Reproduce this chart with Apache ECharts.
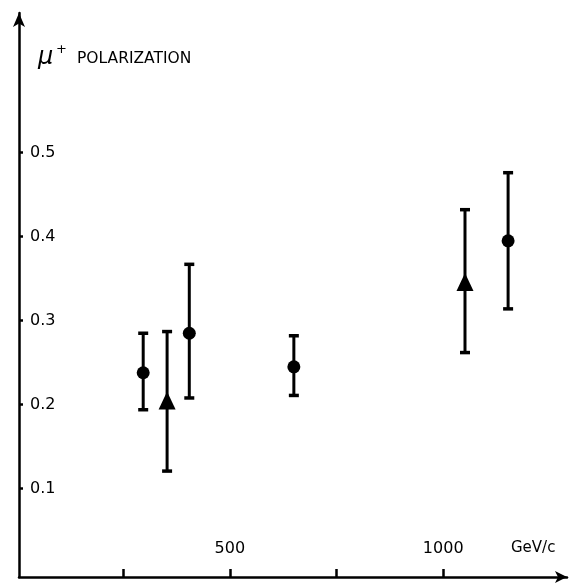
<!DOCTYPE html>
<html>
<head>
<meta charset="utf-8">
<script src="https://cdn.jsdelivr.net/npm/echarts@6/dist/echarts.min.js"></script>
<style>
html,body{margin:0;padding:0;background:#fff;}
#c{width:570px;height:584px;}
</style>
</head>
<body>
<div id="c"></div>
<script>
// Data (momentum in GeV/c, polarization)
const circleX = [297, 405, 650, 1152];
const circleY = [0.238, 0.285, 0.245, 0.395];
const circleLow = [0.194, 0.208, 0.211, 0.314];
const circleHigh = [0.285, 0.367, 0.282, 0.476];

const triX = [353, 1051];
const triY = [0.205, 0.346];
const triLow = [0.121, 0.262];
const triHigh = [0.287, 0.432];

const xTickValues = [250, 500, 750, 1000];
const xLabelValues = [500, 1000];
const yTickValues = [0.1, 0.2, 0.3, 0.4, 0.5];

const FONT = 'DejaVu Sans';

const errData = [];
circleX.forEach((x, i) => errData.push([x, circleLow[i], circleHigh[i]]));
triX.forEach((x, i) => errData.push([x, triLow[i], triHigh[i]]));

const chart = echarts.init(document.getElementById('c'));
chart.setOption({
  animation: false,
  backgroundColor: '#fff',
  grid: { left: 19, right: 3, top: 13, bottom: 7, containLabel: false },
  xAxis: {
    type: 'value', min: 6, max: 1290,
    splitLine: { show: false },
    axisLine: { onZero: false, lineStyle: { color: '#000', width: 2.5 }, symbol: ['none', 'arrow'], symbolSize: [9, 12] },
    axisTick: { show: true, inside: true, length: 8, customValues: xTickValues, lineStyle: { color: '#000', width: 2.5 } },
    axisLabel: { inside: true, margin: 20, customValues: xLabelValues, color: '#000', fontFamily: FONT, fontSize: 16,
      formatter: v => String(v) },
    minorTick: { show: false }
  },
  yAxis: {
    type: 'value', min: -0.005, max: 0.666,
    splitLine: { show: false },
    axisLine: { onZero: false, lineStyle: { color: '#000', width: 2.5 }, symbol: ['none', 'arrow'], symbolSize: [9, 14] },
    axisTick: { show: true, inside: true, length: 4, customValues: yTickValues, lineStyle: { color: '#000', width: 2.5 } },
    axisLabel: { inside: true, margin: 11, customValues: yTickValues, color: '#000', fontFamily: FONT, fontSize: 16,
      formatter: v => v.toFixed(1) }
  },
  graphic: [
    { type: 'text', left: 38, top: 46, style: { text: 'μ', font: 'italic 24px ' + FONT, fill: '#000' } },
    { type: 'text', left: 56, top: 43, style: { text: '+', font: '13px ' + FONT, fill: '#000' } },
    { type: 'text', left: 77, top: 51, style: { text: 'POLARIZATION', font: '15.5px ' + FONT, fill: '#000' } },
    { type: 'text', left: 511, top: 541, style: { text: 'GeV/c', font: '15px ' + FONT, fill: '#000' } }
  ],
  series: [
    {
      type: 'custom',
      data: errData,
      z: 2,
      renderItem: function (params, api) {
        const x = api.value(0);
        const lo = api.coord([x, api.value(1)]);
        const hi = api.coord([x, api.value(2)]);
        const cap = 5;
        const style = { stroke: '#000', lineWidth: 3 };
        return {
          type: 'group',
          children: [
            { type: 'line', shape: { x1: lo[0], y1: lo[1], x2: hi[0], y2: hi[1] }, style: style },
            { type: 'line', shape: { x1: lo[0] - cap, y1: lo[1], x2: lo[0] + cap, y2: lo[1] }, style: { stroke: '#000', lineWidth: 3.5 } },
            { type: 'line', shape: { x1: hi[0] - cap, y1: hi[1], x2: hi[0] + cap, y2: hi[1] }, style: { stroke: '#000', lineWidth: 3.5 } }
          ]
        };
      }
    },
    {
      type: 'scatter', z: 3,
      data: circleX.map((x, i) => [x, circleY[i]]),
      symbol: 'circle', symbolSize: 13,
      itemStyle: { color: '#000', opacity: 1 }
    },
    {
      type: 'scatter', z: 3,
      data: triX.map((x, i) => [x, triY[i]]),
      symbol: 'triangle', symbolSize: [17, 18],
      itemStyle: { color: '#000', opacity: 1 }
    }
  ]
});
</script>
</body>
</html>
